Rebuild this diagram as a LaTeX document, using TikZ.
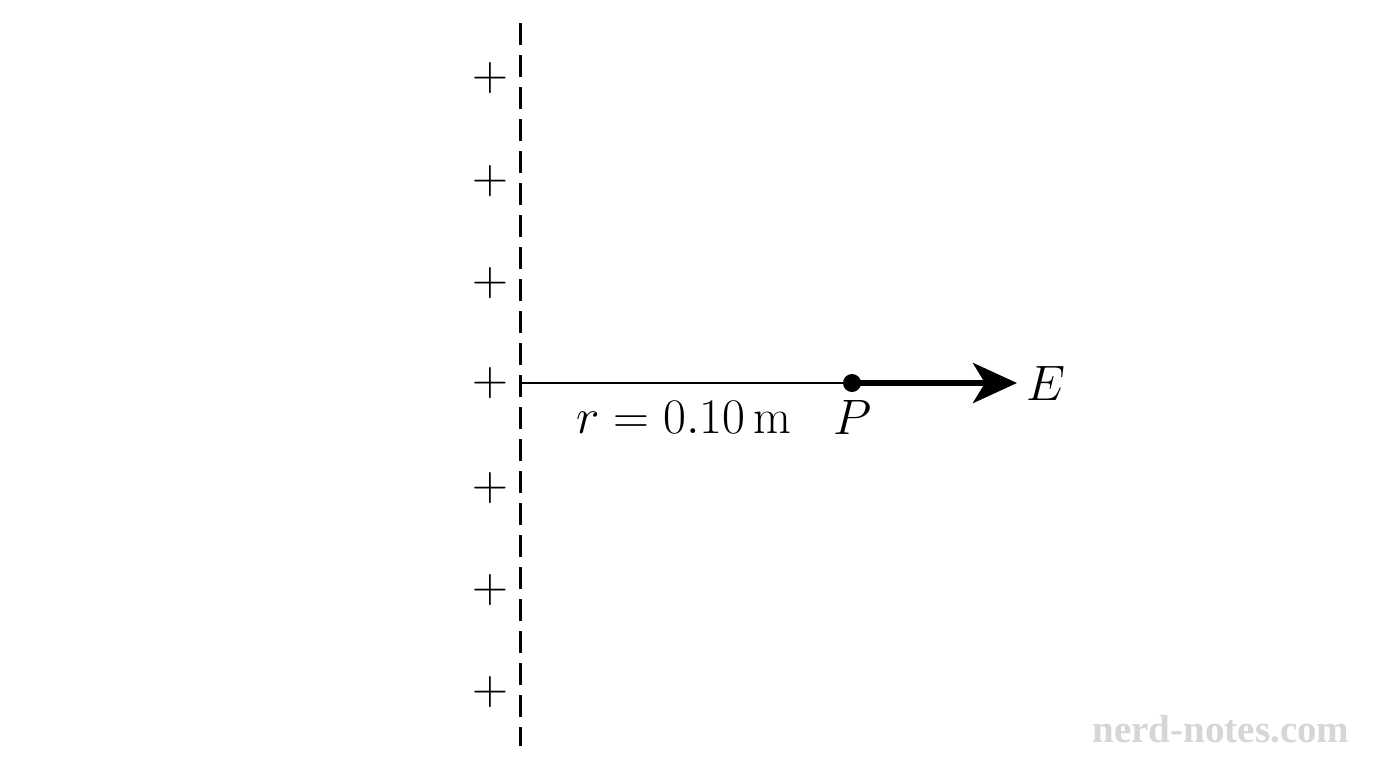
\documentclass[tikz,border=0pt]{standalone}
\usepackage{fontspec}
\newfontfamily\wmfont{Liberation Serif}
\usetikzlibrary{arrows.meta}
\begin{document}
\begin{tikzpicture}[x=0.5pt,y=-0.5pt,
  wire/.style={line width=1.5pt, dash pattern=on 11pt off 5pt},
  plussign/.style={font=\fontsize{25.5}{30}\selectfont, inner sep=0pt},
  lbl/.style={font=\fontsize{24.5}{29}\selectfont, inner sep=0pt},
  radius line/.style={line width=1.2pt},
  field/.style={line width=3pt, -{Stealth[length=22pt,width=20pt,inset=6pt]}},
  wm/.style={font=\wmfont\bfseries\fontsize{19.5}{23}\selectfont, text=black!16, inner sep=0pt}]
\useasboundingbox (0,0) rectangle (1376,768);
\fill[white] (0,0) rectangle (1376,768);
% charged line
\coordinate (top) at (520,23);
\coordinate (bot) at (520,746);
\draw[wire] (top) -- (bot);
\foreach \i/\yy in {1/78,2/181,3/283,4/383,5/488,6/590,7/692}{
  \node[plussign] (plus\i) at (490,\yy) {$+$};
}
% radius and field
\coordinate (O) at (520,383);
\node[circle, fill=black, minimum size=9pt, inner sep=0pt] (P) at (852,383) {};
\coordinate (tip) at (1017,383);
\draw[radius line] (O) -- (P.center);
\draw[field] (P.center) -- (tip);
\node[lbl] (Elbl) at (1046,383) {$E$};
\node[lbl, anchor=base] (rlbl) at (684,433) {$r = 0.10\,\mathrm{m}$};
\node[lbl, anchor=base] (Plbl) at (853,434) {$P$};
% watermark
\node[wm, anchor=base] (mark) at (1221,742) {nerd-notes.com};
\end{tikzpicture}
\end{document}
